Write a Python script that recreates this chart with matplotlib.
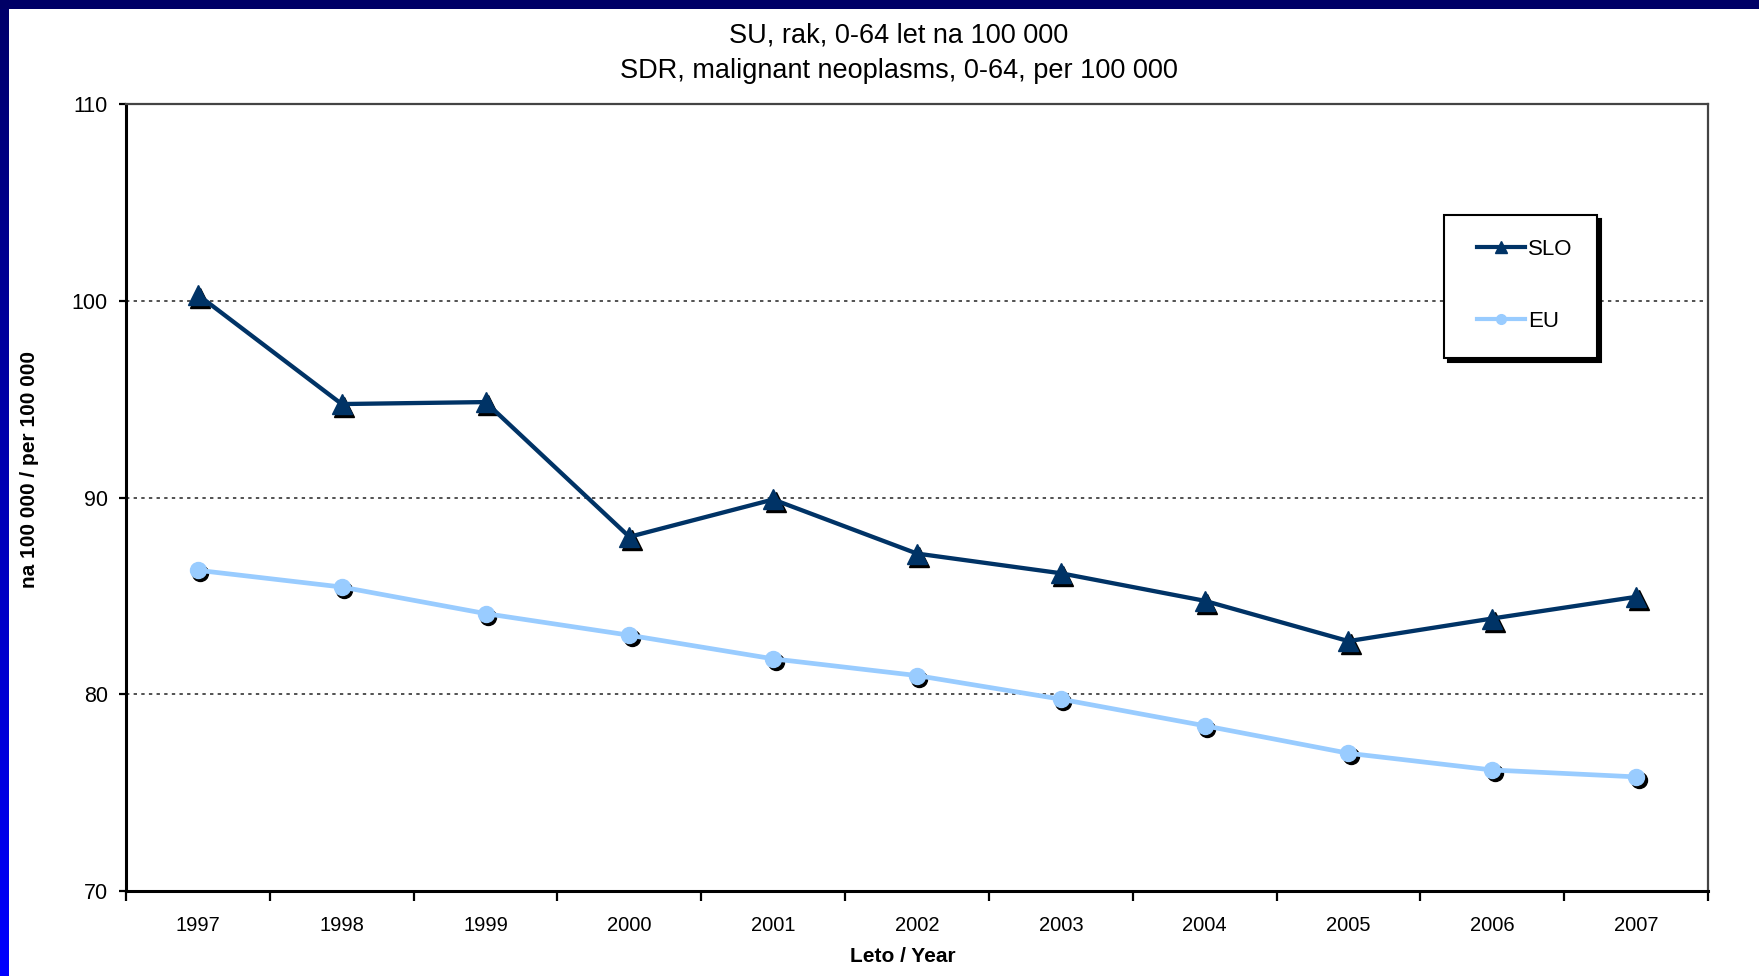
import numpy as np
import matplotlib
matplotlib.use("Agg")
import matplotlib.pyplot as plt
from matplotlib.lines import Line2D
from matplotlib.patches import Rectangle
from matplotlib.transforms import offset_copy

years = ["1997", "1998", "1999", "2000", "2001", "2002", "2003", "2004", "2005", "2006", "2007"]
slo = [100.3, 94.75, 94.85, 88.0, 89.9, 87.15, 86.15, 84.75, 82.7, 83.85, 84.95]
eu = [86.3, 85.45, 84.1, 83.0, 81.8, 80.95, 79.75, 78.4, 77.0, 76.15, 75.8]
yticks = [70, 80, 90, 100, 110]
gridvals = [80, 90, 100]

title1 = "SU, rak, 0-64 let na 100 000"
title2 = "SDR, malignant neoplasms, 0-64, per 100 000"
xlabel = "Leto / Year"
ylabel = "na 100 000 / per 100 000"

SLO_C = "#003366"
EU_C = "#99CCFF"

plt.rcParams['font.family'] = ['Liberation Sans', 'DejaVu Sans']

W, H = 1759, 976
fig = plt.figure(figsize=(W / 100, H / 100), dpi=100, facecolor="white")

# decorative slide frame (top band + left gradient band)
band = 9
top_ax = fig.add_axes([0, 1 - band / H, 1, band / H])
top_ax.set_facecolor("#000066")
top_ax.set_xticks([]); top_ax.set_yticks([])
for s in top_ax.spines.values():
    s.set_visible(False)
left_ax = fig.add_axes([0, 0, band / W, 1 - band / H])
grad = np.linspace(0, 1, 256).reshape(-1, 1)
c0 = np.array([0, 0, 0x6B]) / 255.0
c1 = np.array([0, 0, 255]) / 255.0
img = (c0[None, None, :] * (1 - grad[:, :, None]) + c1[None, None, :] * grad[:, :, None])
left_ax.imshow(img, aspect="auto", extent=[0, 1, 0, 1], origin="upper")
left_ax.set_xticks([]); left_ax.set_yticks([])
for s in left_ax.spines.values():
    s.set_visible(False)

# main axes
x0, x1, ytop, ybot = 126, 1708, 104, 891
ax = fig.add_axes([x0 / W, 1 - ybot / H, (x1 - x0) / W, (ybot - ytop) / H])
x = np.arange(len(years))
ax.set_xlim(-0.5, len(years) - 0.5)
ax.set_ylim(70, 110)

for g in gridvals:
    ax.axhline(g, color="#222222", lw=1.1, linestyle=(0, (2.2, 2.8)), zorder=1)

sh = offset_copy(ax.transData, fig=fig, x=2.5, y=-3, units="dots")
ax.plot(x, slo, ls="none", marker="^", ms=14, color="black", transform=sh, zorder=3)
ax.plot(x, slo, color=SLO_C, lw=3.1, zorder=4)
ax.plot(x, slo, ls="none", marker="^", ms=14, color=SLO_C, zorder=5)

ax.plot(x, eu, ls="none", marker="o", ms=11.5, color="black", transform=sh, zorder=3)
ax.plot(x, eu, color=EU_C, lw=3.4, zorder=4)
ax.plot(x, eu, ls="none", marker="o", ms=11.5, color=EU_C, zorder=5)

ax.set_yticks(yticks)
ax.set_yticklabels([str(v) for v in yticks], fontsize=15.5)
ax.set_xticks(x)
ax.set_xticklabels(years, fontsize=14.5)
ax.set_xticks(np.arange(len(years) + 1) - 0.5, minor=True)
ax.tick_params(axis="x", which="major", length=0, pad=18)
ax.tick_params(axis="x", which="minor", length=7, width=1.6, direction="out", color="black")
ax.tick_params(axis="y", which="major", length=5, width=1.6, direction="out", pad=8, color="black")

for side in ["left", "bottom"]:
    ax.spines[side].set_color("black")
    ax.spines[side].set_linewidth(2.2)
for side in ["top", "right"]:
    ax.spines[side].set_color("#444444")
    ax.spines[side].set_linewidth(1.6)

fig.text(903 / W, 1 - 956 / H, xlabel, fontsize=15, fontweight="bold", ha="center", va="center")
fig.text(30 / W, 1 - 469 / H, ylabel, rotation=90, fontsize=15, fontweight="bold",
         ha="center", va="center")

fig.text(899 / W, 1 - 35 / H, title1, fontsize=19.5, ha="center", va="center")
fig.text(899 / W, 1 - 71 / H, title2, fontsize=19.5, ha="center", va="center")

# legend box with shadow (drawn manually)
lx0, lx1, ly0, ly1 = 1444, 1597, 215, 358
shadow = Rectangle(((lx0 + 4) / W, 1 - (ly1 + 4) / H), (lx1 - lx0) / W, (ly1 - ly0) / H,
                   transform=fig.transFigure, facecolor="black", edgecolor="black", lw=1.5, zorder=20)
frame = Rectangle((lx0 / W, 1 - ly1 / H), (lx1 - lx0) / W, (ly1 - ly0) / H,
                  transform=fig.transFigure, facecolor="white", edgecolor="black", lw=1.5, zorder=21)
fig.add_artist(shadow)
fig.add_artist(frame)

handles = [
    Line2D([], [], color=SLO_C, lw=3, marker="^", ms=9),
    Line2D([], [], color=EU_C, lw=3, marker="o", ms=7),
]
leg = fig.legend(handles, ["SLO", "EU"], loc="upper left",
                 bbox_to_anchor=(1477 / W, 1 - 239 / H), bbox_transform=fig.transFigure,
                 borderaxespad=0, borderpad=0, fontsize=16, frameon=False,
                 handlelength=2.15, handletextpad=0.15, labelspacing=2.28)
leg.set_zorder(22)

fig.savefig("out.png", dpi=100, facecolor="white")
